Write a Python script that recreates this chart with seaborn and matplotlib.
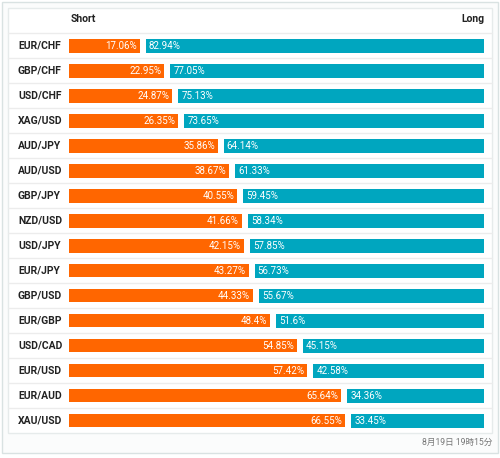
import matplotlib
matplotlib.use("Agg")
import matplotlib.pyplot as plt
import matplotlib.transforms as mtransforms
from matplotlib.patches import Rectangle
import seaborn as sns
import pandas as pd

# data
pairs = ["EUR/CHF", "GBP/CHF", "USD/CHF", "XAG/USD", "AUD/JPY", "AUD/USD",
         "GBP/JPY", "NZD/USD", "USD/JPY", "EUR/JPY", "GBP/USD", "EUR/GBP",
         "USD/CAD", "EUR/USD", "EUR/AUD", "XAU/USD"]
short_pct = [17.06, 22.95, 24.87, 26.35, 35.86, 38.67, 40.55, 41.66,
             42.15, 43.27, 44.33, 48.4, 54.85, 57.42, 65.64, 66.55]
long_pct = [82.94, 77.05, 75.13, 73.65, 64.14, 61.33, 59.45, 58.34,
            57.85, 56.73, 55.67, 51.6, 45.15, 42.58, 34.36, 33.45]
header_short = "Short"
header_long = "Long"
timestamp = "8月19日 19時15分"

ORANGE = "#FF6600"
TEAL = "#00A6BF"
W, H = 500, 458

sns.set_theme(style="white")
plt.rcParams["font.family"] = ["Roboto", "Noto Sans CJK JP", "DejaVu Sans"]

df = pd.DataFrame({"pair": pairs, "short": short_pct, "long": long_pct})

fig = plt.figure(figsize=(W / 100, H / 100), dpi=100)
fig.patch.set_facecolor("white")

# background frames (pixel coords via figure fractions)
def px_rect(x0, y0, x1, y1, **kw):
    r = Rectangle((x0 / W, 1 - y1 / H), (x1 - x0) / W, (y1 - y0) / H,
                  transform=fig.transFigure, zorder=-10, **kw)
    fig.patches.append(r)

px_rect(1.5, 1.5, 497.5, 453, facecolor="#fbfcfc", edgecolor="#d9e2e2", lw=1.0)
px_rect(8, 8, 491.5, 433, facecolor="white", edgecolor="#e6ebeb", lw=1.0)

# bars axes
x0, x1 = 69, 484
y0, y1 = 33, 433
ax = fig.add_axes([x0 / W, 1 - y1 / H, (x1 - x0) / W, (y1 - y0) / H])
ax.set_facecolor("none")

gap = 6 / (x1 - x0) * 100
sns.barplot(data=df, x="short", y="pair", orient="h", color=ORANGE,
            width=0.56, saturation=1, ax=ax, edgecolor="none")
ax.barh(range(len(pairs)), df["long"] - gap, left=df["short"] + gap,
        height=0.56, color=TEAL, edgecolor="none")

ax.set_xlim(0, 100)
ax.set_ylim(len(pairs) - 0.5, -0.5)
ax.axis("off")

# row separators
xmin = (8 - x0) / (x1 - x0)
xmax = (491.5 - x0) / (x1 - x0)
for k in range(len(pairs)):
    ax.axhline(k - 0.5, xmin=xmin, xmax=xmax, color="#ececec", lw=1.0,
               clip_on=False, zorder=0)

trans = mtransforms.blended_transform_factory(ax.transAxes, ax.transData)
lab_x = (18 - x0) / (x1 - x0)
px = 100 / (x1 - x0)
for i, row in df.iterrows():
    ax.text(lab_x, i, row["pair"], transform=trans, ha="left", va="center",
            fontsize=7.5, fontweight="bold", color="#222222")
    ax.text(row["short"] - 3 * px, i + 0.03, f"{row['short']:g}%", ha="right",
            va="center", fontsize=7, color="white")
    ax.text(row["short"] + gap + 3 * px, i + 0.03, f"{row['long']:g}%",
            ha="left", va="center", fontsize=7, color="white")

ax.text(0.3, -1.05, header_short, ha="left", va="center", fontsize=7.5,
        fontweight="bold", color="#222222")
ax.text(100, -1.05, header_long, ha="right", va="center", fontsize=7.5,
        fontweight="bold", color="#222222")

fig.text(492 / W, 1 - 442 / H, timestamp, ha="right", va="center",
         fontsize=6.2, color="#777777")

fig.savefig("out.png", dpi=100, facecolor=fig.get_facecolor())
